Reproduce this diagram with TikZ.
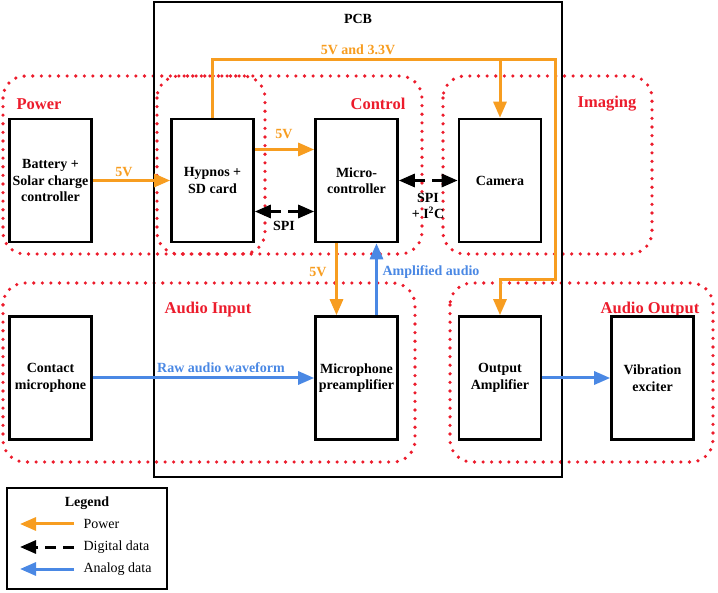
\documentclass[tikz,border=0pt]{standalone}
\usepackage{fontspec}
\setmainfont{Liberation Serif}
\usetikzlibrary{arrows.meta}
\definecolor{pwrc}{RGB}{247,157,32}
\definecolor{anac}{RGB}{74,136,228}
\definecolor{regc}{RGB}{236,28,44}
\tikzset{%
  blk/.style = {rectangle,draw,line width=2.6pt,minimum width=82pt,
        minimum height=123pt,align=center,
        font=\fontsize{14}{16.5}\selectfont\bfseries},
  reg/.style = {draw=regc,line width=3.6pt,line cap=round,
        dash pattern=on 0pt off 8.6pt,rounded corners=22pt},
  rlbl/.style = {text=regc,font=\fontsize{16.5}{18}\selectfont\bfseries},
  pwr/.style = {-{Triangle[length=16pt,width=13pt]},pwrc,line width=3pt},
  ana/.style = {-{Triangle[length=16pt,width=13pt]},anac,line width=3pt},
  dig/.style = {{Triangle[length=16pt,width=13pt]}-{Triangle[length=16pt,width=13pt]},
        line width=3pt,dash pattern=on 11pt off 7pt},
  lbl/.style = {font=\fontsize{14}{16.5}\selectfont\bfseries},
  leg/.style = {font=\fontsize{14}{16.5}\selectfont,anchor=west}
}
\begin{document}
\begin{tikzpicture}[x=1pt,y=-1pt]
    \useasboundingbox (0,0) rectangle (718,593);
    % regions
    \draw[reg] (3,76) rectangle (265,254);
    \draw[reg] (157,76) rectangle (422,254);
    \draw[reg] (443,76) rectangle (652,254);
    \draw[reg] (3,283) rectangle (415,462);
    \draw[reg] (450,283) rectangle (713,462);
    \node[rlbl] (lpow) at (39,104) {Power};
    \node[rlbl] (lctl) at (378,104) {Control};
    \node[rlbl] (limg) at (607,104) {Imaging};
    \node[rlbl] (lain) at (208,310) {Audio Input};
    \node[rlbl] (laout) at (650,310) {Audio Output};
    % pcb
    \draw[line width=2.4pt] (154,2) rectangle (562,477);
    \node[lbl] (pcb) at (358,19) {PCB};
    % blocks
    \node[blk] (bat) at (50.5,180.5) {Battery +\\Solar charge\\controller};
    \node[blk] (hyp) at (212.5,180.5) {Hypnos +\\SD card};
    \node[blk] (mcu) at (356.5,180.5) {Micro-\\controller};
    \node[blk] (cam) at (500,180.5) {Camera};
    \node[blk] (mic) at (50.5,378) {Contact\\microphone};
    \node[blk] (pre) at (356.5,378) {Microphone\\preamplifier};
    \node[blk] (out) at (500,378) {Output\\Amplifier};
    \node[blk] (vib) at (652.5,378) {Vibration\\exciter};
    % power
    \coordinate (jn) at (500,60);
    \coordinate (rt) at (555,280);
    \draw[pwr] (bat) -- (hyp);
    \node[lbl,pwrc] (v1) at (124,172) {5V};
    \draw[pwr] ([yshift=31pt]hyp.east) -- ([yshift=31pt]mcu.west);
    \node[lbl,pwrc] (v2) at (284,134) {5V};
    \draw[pwr] (hyp.north) |- (jn) -- (cam.north);
    \draw[pwr] (jn) -| (rt) -| (out.north);
    \node[lbl,pwrc] (v3) at (358,50) {5V and 3.3V};
    \draw[pwr] ([xshift=-20pt]mcu.south) -- ([xshift=-20pt]pre.north);
    \node[lbl,pwrc] (v4) at (318,272) {5V};
    % data
    \draw[dig] ([yshift=-31pt]hyp.east) -- ([yshift=-31pt]mcu.west);
    \node[lbl] (spi1) at (284,226) {SPI};
    \draw[dig] (mcu) -- (cam);
    \node[lbl,align=center] (spi2) at (428,206) {SPI\\+ I\textsuperscript{2}C};
    \draw[ana] ([xshift=20pt]pre.north) -- ([xshift=20pt]mcu.south);
    \node[lbl,anac] (amp) at (431,272) {Amplified audio};
    \draw[ana] (mic) -- (pre);
    \node[lbl,anac] (raw) at (221,368) {Raw audio waveform};
    \draw[ana] (out) -- (vib);
    % legend
    \draw[line width=2.4pt] (7,488) rectangle (167,589);
    \node[lbl] (legt) at (87,503) {Legend};
    \coordinate (p1) at (74,524);
    \coordinate (p2) at (74,547);
    \coordinate (p3) at (74,569);
    \draw[pwr] (p1) -- ++(-54,0);
    \node[leg] (lp) at (80,524) {Power};
    \draw[-{Triangle[length=16pt,width=13pt]},line width=3pt,dash pattern=on 11pt off 7pt] (p2) -- ++(-54,0);
    \node[leg] (ld) at (80,547) {Digital data};
    \draw[ana] (p3) -- ++(-54,0);
    \node[leg] (la) at (80,569) {Analog data};
\end{tikzpicture}
\end{document}
